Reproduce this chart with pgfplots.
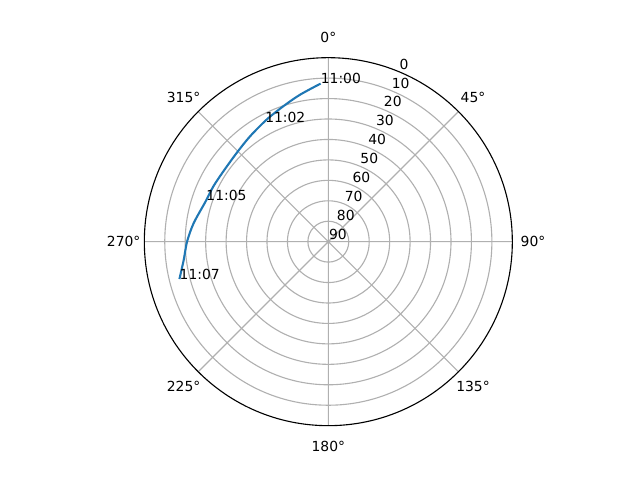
\documentclass[border=0pt]{standalone}
\usepackage{fontspec}
\setmainfont{DejaVu Sans}
\usepackage{pgfplots}
\usepackage{pgfplotstable}
\pgfplotsset{compat=1.18}
\usepgfplotslibrary{polar}
\definecolor{mplblue}{HTML}{1F77B4}
\definecolor{gridgray}{HTML}{B0B0B0}

% azimuth (deg, clockwise from north), elevation (deg)
\pgfplotstableread{
az el
357.2 12.6
349.1 16.8
341.6 20.2
333.2 23.1
323.4 25.8
314.1 27.6
303.8 28.2
295.7 27.6
288.0 26.8
277.8 23.5
270.0 20.9
262.8 18.7
255.9 14.9
}\track

\begin{document}
\begin{tikzpicture}
\begin{polaraxis}[
  scale only axis, width=264.96pt, height=264.96pt,
  xmin=0, xmax=360, ymin=0, ymax=90,
  xtick={0,45,...,315}, xticklabels={},
  ytick={10,20,...,80}, yticklabels={},
  xmajorgrids, ymajorgrids,
  major grid style={draw=gridgray, line width=0.8pt},
  axis line style={line width=0.8pt, black},
  y axis line style={draw=none},
  major tick length=0pt,
  clip=false,
  font=\fontsize{10}{12}\selectfont,
]
\coordinate (c) at (axis cs:0,0);
% plot angle = 450 - azimuth, radius = 90 - elevation
\addplot[mplblue, line width=1.5pt, no marks, smooth, tension=0.5]
  table[x expr={450-\thisrow{az}}, y expr={90-\thisrow{el}}] {\track};

\node[anchor=base west, inner sep=0] at (axis cs:92.8,77.4) {11:00};
\node[anchor=base west, inner sep=0] at (axis cs:117.9,66.2) {11:02};
\node[anchor=base west, inner sep=0] at (axis cs:161.5,63.0) {11:05};
\node[anchor=base west, inner sep=0] at (axis cs:194.1,75.1) {11:07};

% azimuth labels
\node at (axis cs:90,100.1) {0°};
\node at (axis cs:45,100.1) {45°};
\node at (axis cs:0,100.1) {90°};
\node at (axis cs:315,100.1) {135°};
\node at (axis cs:270,100.1) {180°};
\node at (axis cs:225,100.1) {225°};
\node at (axis cs:180,100.1) {270°};
\node at (axis cs:135,100.1) {315°};

% elevation labels
\tikzset{rl/.style={anchor=base west, inner sep=0, xshift=0.4pt, yshift=1.8pt}}
\node[rl] at (axis cs:67.5,90) {0};
\node[rl] at (axis cs:67.5,80) {10};
\node[rl] at (axis cs:67.5,70) {20};
\node[rl] at (axis cs:67.5,60) {30};
\node[rl] at (axis cs:67.5,50) {40};
\node[rl] at (axis cs:67.5,40) {50};
\node[rl] at (axis cs:67.5,30) {60};
\node[rl] at (axis cs:67.5,20) {70};
\node[rl] at (axis cs:67.5,10) {80};
\node[rl] at (axis cs:67.5,0) {90};
\end{polaraxis}
\path (c) ++(-236.4pt,-171.6pt) rectangle ++(460.8pt,345.6pt);
\end{tikzpicture}
\end{document}
